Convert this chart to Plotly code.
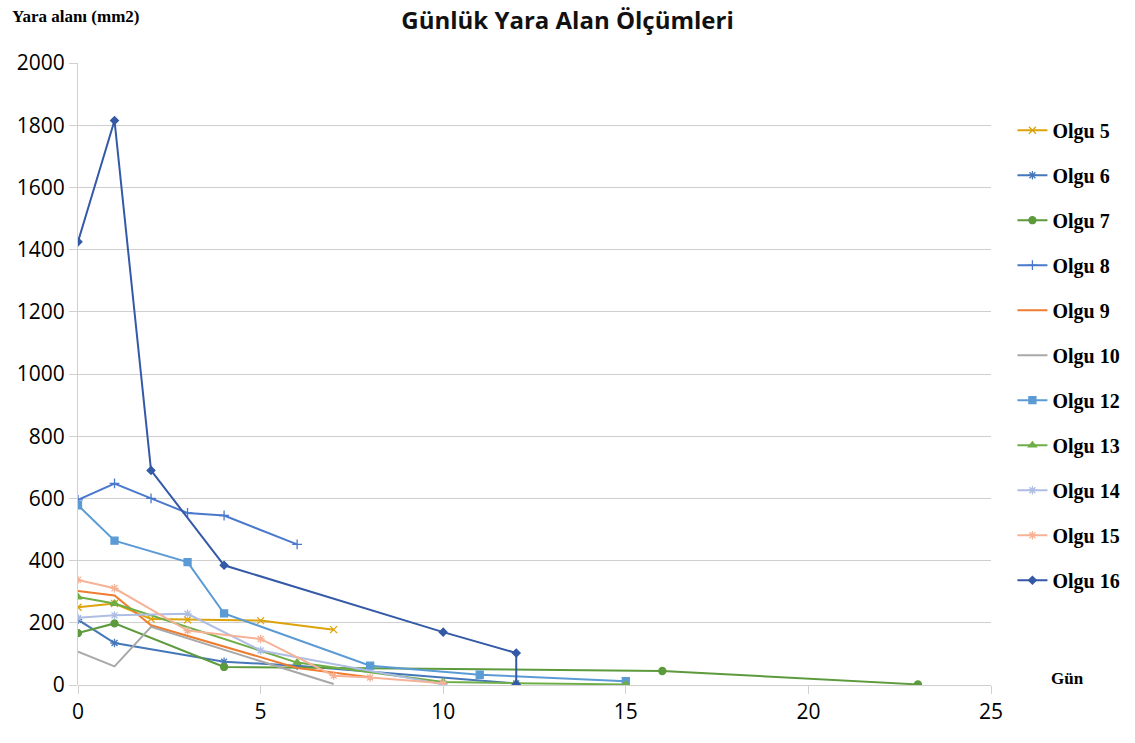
import plotly.graph_objects as go

names = ["Olgu 5", "Olgu 6", "Olgu 7", "Olgu 8", "Olgu 9", "Olgu 10",
         "Olgu 12", "Olgu 13", "Olgu 14", "Olgu 15", "Olgu 16"]

olgu5_x = [0, 1, 2, 3, 5, 7]
olgu5_y = [250, 262, 212, 210, 207, 178]
olgu6_x = [0, 1, 4, 6, 12]
olgu6_y = [210, 135, 75, 62, 5]
olgu7_x = [0, 1, 4, 16, 23]
olgu7_y = [167, 198, 58, 45, 2]
olgu8_x = [0, 1, 2, 3, 4, 6]
olgu8_y = [595, 648, 600, 553, 545, 452]
olgu9_x = [0, 1, 2, 6, 8]
olgu9_y = [302, 288, 192, 55, 25]
olgu10_x = [0, 1, 2, 7]
olgu10_y = [107, 60, 187, 3]
olgu12_x = [0, 1, 3, 4, 8, 11, 15]
olgu12_y = [578, 464, 395, 230, 62, 33, 12]
olgu13_x = [0, 1, 6, 10, 12, 15]
olgu13_y = [283, 262, 72, 10, 6, 2]
olgu14_x = [0, 1, 3, 5, 10]
olgu14_y = [216, 224, 229, 111, 2]
olgu15_x = [0, 1, 3, 5, 7, 8, 10]
olgu15_y = [338, 311, 175, 148, 30, 24, 6]
olgu16_x = [0, 1, 2, 4, 10, 12, 12]
olgu16_y = [1425, 1815, 690, 385, 170, 103, 2]

xs = [olgu5_x, olgu6_x, olgu7_x, olgu8_x, olgu9_x, olgu10_x,
      olgu12_x, olgu13_x, olgu14_x, olgu15_x, olgu16_x]
ys = [olgu5_y, olgu6_y, olgu7_y, olgu8_y, olgu9_y, olgu10_y,
      olgu12_y, olgu13_y, olgu14_y, olgu15_y, olgu16_y]

colors = ["#DDA30B", "#4577B9", "#5C9A3C", "#4A78CC", "#EE7D31", "#A8A8A8",
          "#5B9BD5", "#6FAE47", "#AEBDE3", "#F6B296", "#3459A6"]
symbols = ["x-thin-open", "asterisk-open", "circle", "cross-thin-open", None, None,
           "square", "triangle-up", "asterisk-open", "asterisk-open", "diamond"]
msizes = [7, 7, 7, 7, 0, 0, 7, 7, 7, 7, 6]

fig = go.Figure()
for n, x, y, c, s, ms in zip(names, xs, ys, colors, symbols, msizes):
    if s is None:
        mode = "lines"
        marker = dict()
    else:
        mode = "lines+markers"
        marker = dict(symbol=s, size=ms, color=c, line=dict(color=c, width=1.3))
    fig.add_trace(go.Scatter(x=x, y=y, name="<b>" + n + "</b>", mode=mode, legendgroup=n,
                             line=dict(color=c, width=2), marker=marker))

fig.update_layout(
    width=1135, height=743,
    paper_bgcolor="white", plot_bgcolor="white",
    margin=dict(l=78, r=144, t=63, b=58, autoexpand=False),
    title=dict(text="<b>Günlük Yara Alan Ölçümleri</b>", x=0.5, xref="container",
               xanchor="center", y=0.972, yanchor="middle",
               font=dict(family="Open Sans", size=24, color="#111111")),
    legend=dict(xref="container", yref="container", x=0.892, xanchor="left",
                y=0.851, yanchor="top", maxheight=640,
                font=dict(family="Liberation Serif", size=20, color="black"),
                tracegroupgap=16, itemwidth=30, bgcolor="rgba(0,0,0,0)"),
    xaxis=dict(range=[0, 25], tickvals=[0, 5, 10, 15, 20, 25], showgrid=False,
               zeroline=False, showline=False, ticks="outside", ticklen=8,
               tickcolor="#d0d0d0", tickfont=dict(family="Open Sans", size=21, color="black"),
               fixedrange=True),
    yaxis=dict(range=[0, 2000], dtick=200, showgrid=True, gridcolor="#cfcfcf",
               gridwidth=1, zeroline=True, zerolinecolor="#cfcfcf", zerolinewidth=1,
               showline=True, linecolor="#d0d0d0", linewidth=1, ticks="outside",
               ticklen=8, tickcolor="#d0d0d0",
               tickfont=dict(family="Open Sans", size=21, color="black"),
               fixedrange=True),
    annotations=[
        dict(text="<b>Yara alanı (mm2)</b>", xref="paper", yref="paper",
             x=-0.075, y=1.075, xanchor="left", yanchor="middle", showarrow=False,
             font=dict(family="Liberation Serif", size=17, color="black")),
        dict(text="<b>Gün</b>", xref="paper", yref="y",
             x=1.063, y=20, xanchor="left", yanchor="middle", showarrow=False,
             font=dict(family="Liberation Serif", size=17, color="black")),
    ],
)

fig.write_html("out.html", config={"displayModeBar": False},
               post_script="document.body.style.margin='0';document.body.style.overflow='hidden';")
